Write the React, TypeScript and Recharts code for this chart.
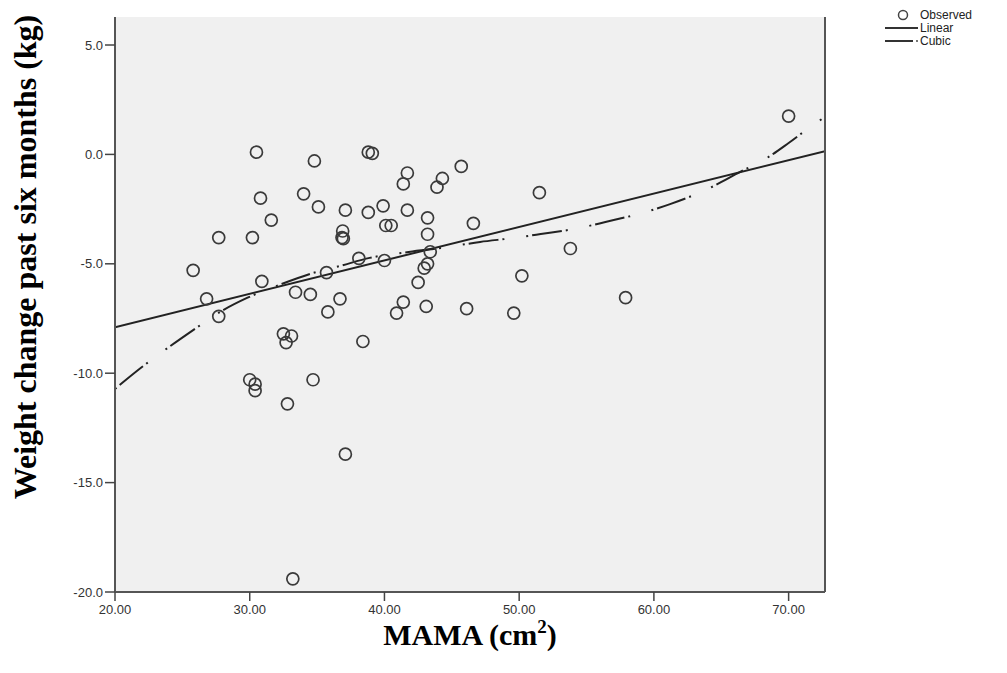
import React from "react";
import { ComposedChart, Scatter, Line, XAxis, YAxis, CartesianGrid, Label } from "recharts";

// ---- data ----
const observedX = [
  25.8, 26.8, 27.7, 27.7, 30.2, 30.5, 30.8, 31.6, 30.9, 33.4,
  34.5, 35.8, 32.5, 33.1, 32.7, 30.0, 30.4, 30.4, 34.7, 32.8,
  33.2, 34.8, 34.0, 35.1, 35.7, 38.8, 39.1, 41.7, 41.4, 45.7,
  44.3, 43.9, 37.1, 38.8, 39.9, 41.7, 43.2, 43.2, 46.6, 36.9,
  36.85, 36.95, 40.1, 40.5, 38.1, 40.0, 43.4, 43.2, 42.95, 42.5,
  36.7, 41.4, 38.4, 37.1, 40.9, 43.1, 46.1, 49.6, 51.5, 53.8,
  50.2, 57.9, 70.0,
];
const observedY = [
  -5.3, -6.6, -7.4, -3.8, -3.8, 0.1, -2.0, -3.0, -5.8, -6.3,
  -6.4, -7.2, -8.2, -8.3, -8.6, -10.3, -10.5, -10.8, -10.3, -11.4,
  -19.4, -0.3, -1.8, -2.4, -5.4, 0.1, 0.05, -0.85, -1.35, -0.55,
  -1.1, -1.5, -2.55, -2.65, -2.35, -2.55, -2.9, -3.65, -3.15, -3.5,
  -3.8, -3.85, -3.25, -3.25, -4.75, -4.85, -4.45, -5.0, -5.2, -5.85,
  -6.6, -6.75, -8.55, -13.7, -7.25, -6.95, -7.05, -7.25, -1.75, -4.3,
  -5.55, -6.55, 1.75,
];

const linearX = [20, 72.7];
const linearY = [-7.9, 0.15];

const cubicX = [
  20, 22.0, 23.5, 25.8, 27.8, 29.8, 32.0, 34.7, 36.7, 38.9, 41.8, 44.7, 47.1,
  49.6, 51.6, 54.5, 56.4, 59.4, 61.2, 64.0, 66.4, 68.4, 70.0, 71.8, 72.7,
];
const cubicY = [
  -10.72, -9.72, -9.03, -8.03, -7.2, -6.56, -6.01, -5.42, -5.1, -4.73, -4.46, -4.23, -4.0,
  -3.82, -3.64, -3.36, -3.09, -2.63, -2.27, -1.58, -0.8, -0.16, 0.52, 1.34, 1.71,
];

const xTicks = [20, 30, 40, 50, 60, 70];
const yTicks = [-20, -15, -10, -5, 0, 5];

const legendItems = ["Observed", "Linear", "Cubic"];

const observed = observedX.map((x, i) => ({ x, y: observedY[i] }));
const linear = linearX.map((x, i) => ({ x, y: linearY[i] }));
const cubic = cubicX.map((x, i) => ({ x, y: cubicY[i] }));

const INK = "#333";
const TICK_FONT = "Liberation Sans, Arial, sans-serif";
const TITLE_FONT = "Liberation Serif, 'Times New Roman', serif";

const ring = (props: any) => (
  <circle cx={props.cx} cy={props.cy} r={6} fill="none" stroke="#3a3a3a" strokeWidth={1.7} />
);

const YTitle = () => (
  <text
    x={36}
    y={257}
    transform="rotate(-90 36 257)"
    textAnchor="middle"
    fontFamily={TITLE_FONT}
    fontWeight="bold"
    fontSize={32}
    fill="#000"
  >
    Weight change past six months (kg)
  </text>
);

const XTitle = () => (
  <text x={470} y={645} textAnchor="middle" fontFamily={TITLE_FONT} fontWeight="bold" fontSize={30} fill="#000">
    MAMA (cm
    <tspan dy={-12} fontSize={19}>2</tspan>
    <tspan dy={12}>)</tspan>
  </text>
);

const LegendBox = () => (
  <svg width={130} height={60} style={{ position: "absolute", left: 880, top: 3 }}>
    <circle cx={23} cy={12} r={4.5} fill="none" stroke="#444" strokeWidth={1.5} />
    <line x1={5} x2={38} y1={25} y2={25} stroke="#333" strokeWidth={2} />
    <line x1={5} x2={33} y1={38} y2={38} stroke="#333" strokeWidth={2} />
    <circle cx={37} cy={38} r={0.9} fill="#333" />
    {legendItems.map((t, i) => (
      <text key={t} x={40} y={16 + i * 13} fontFamily={TICK_FONT} fontSize={12} fill="#222">
        {t}
      </text>
    ))}
  </svg>
);

export default function App() {
  return (
    <div style={{ position: "absolute", left: 0, top: 0, width: 1007, height: 673, background: "#fff" }}>
      <ComposedChart width={1007} height={673} margin={{ top: 17, right: 0, bottom: 0, left: 0 }}>
        <CartesianGrid fill="#f0f0f0" horizontal={false} vertical={false} />
        <XAxis
          xAxisId="b"
          type="number"
          dataKey="x"
          domain={[20, 72.7]}
          ticks={xTicks}
          allowDataOverflow
          height={81}
          tickSize={9}
          tickMargin={4}
          tickFormatter={(v: number) => v.toFixed(2)}
          tick={{ fill: INK, fontSize: 13, fontFamily: TICK_FONT }}
          axisLine={{ stroke: "#555", strokeWidth: 2 }}
          tickLine={{ stroke: "#444", strokeWidth: 1.5 }}
        >
          <Label content={XTitle} />
        </XAxis>
        <XAxis
          xAxisId="t"
          orientation="top"
          type="number"
          dataKey="x"
          domain={[20, 72.7]}
          height={0}
          tick={false}
          tickLine={false}
          axisLine={{ stroke: "#555", strokeWidth: 2 }}
        />
        <YAxis
          yAxisId="l"
          type="number"
          domain={[-20, 6.28]}
          ticks={yTicks}
          allowDataOverflow
          width={115}
          tickSize={10}
          tickMargin={2}
          tickFormatter={(v: number) => v.toFixed(1)}
          tick={{ fill: INK, fontSize: 13, fontFamily: TICK_FONT }}
          axisLine={{ stroke: "#555", strokeWidth: 2 }}
          tickLine={{ stroke: "#444", strokeWidth: 1.5 }}
        >
          <Label content={YTitle} />
        </YAxis>
        <YAxis
          yAxisId="r"
          orientation="right"
          type="number"
          domain={[-20, 6.28]}
          width={182}
          tick={false}
          tickLine={false}
          axisLine={{ stroke: "#555", strokeWidth: 2 }}
        />
        <Line
          xAxisId="b"
          yAxisId="l"
          data={linear}
          dataKey="y"
          type="linear"
          dot={false}
          activeDot={false}
          stroke="#222"
          strokeWidth={2}
          isAnimationActive={false}
        />
        <Line
          xAxisId="b"
          yAxisId="l"
          data={cubic}
          dataKey="y"
          type="monotone"
          dot={false}
          activeDot={false}
          stroke="#222"
          strokeWidth={2}
          strokeDasharray="2 4 30 4 2 22"
          isAnimationActive={false}
        />
        <Scatter
          xAxisId="b"
          yAxisId="l"
          data={observed}
          dataKey="y"
          shape={ring}
          isAnimationActive={false}
        />
      </ComposedChart>
      <LegendBox />
    </div>
  );
}
